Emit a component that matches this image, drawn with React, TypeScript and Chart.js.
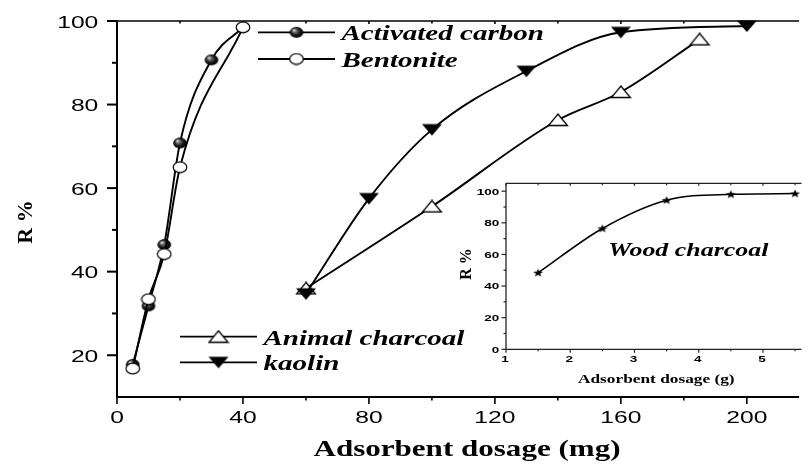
import React, { useEffect, useRef } from 'react';
import { Chart, registerables } from 'chart.js';

Chart.register(...registerables);

// ---------- data ----------
const acDose = [5, 10, 15, 20, 30, 40];
const acRemoval = [17.8, 31.8, 46.5, 70.8, 90.7, 98.5];
const bentDose = [5, 10, 15, 20, 40];
const bentRemoval = [16.8, 33.4, 44.2, 65.0, 98.5];
const animalDose = [60, 100, 140, 160, 185];
const animalRemoval = [36.0, 55.6, 76.3, 83.0, 95.6];
const kaolinDose = [60, 80, 100, 130, 160, 200];
const kaolinRemoval = [34.7, 57.5, 74.0, 88.0, 97.3, 98.8];
const woodDose = [1.5, 2.5, 3.5, 4.5, 5.5];
const woodRemoval = [48.4, 76.4, 94.3, 98.0, 98.5];

const xTickLabels = [0, 40, 80, 120, 160, 200];
const xMinorTicks = [20, 60, 100, 140, 180];
const yTickLabels = [20, 40, 60, 80, 100];
const yMinorTicks = [30, 50, 70, 90];
const insetXTickLabels = [1, 2, 3, 4, 5];
const insetXMinorTicks = [1.5, 2.5, 3.5, 4.5, 5.5];
const insetYTickLabels = [0, 20, 40, 60, 80, 100];
const insetYMinorTicks = [10, 30, 50, 70, 90];

const pts = (xs: number[], ys: number[]) => xs.map((x, i) => ({ x, y: ys[i] }));

// ---------- markers ----------
function makeCanvas(w: number, h: number) {
  const c = document.createElement('canvas');
  c.width = w;
  c.height = h;
  return c;
}
function sphereMarker() {
  const c = makeCanvas(16, 13);
  const g = c.getContext('2d')!;
  g.translate(8, 6.5);
  g.scale(1, 5.6 / 7);
  const grad = g.createRadialGradient(-2.8, -2.8, 0.3, 0, 0, 7);
  grad.addColorStop(0, '#e0e0e0');
  grad.addColorStop(0.35, '#555');
  grad.addColorStop(0.7, '#111');
  grad.addColorStop(1, '#000');
  g.beginPath();
  g.arc(0, 0, 6.8, 0, Math.PI * 2);
  g.fillStyle = grad;
  g.fill();
  return c;
}
function openCircleMarker() {
  const c = makeCanvas(16, 13);
  const g = c.getContext('2d')!;
  g.beginPath();
  g.ellipse(8, 6.5, 6.8, 5.4, 0, 0, Math.PI * 2);
  g.fillStyle = '#fff';
  g.fill();
  g.lineWidth = 1.2;
  g.strokeStyle = '#000';
  g.stroke();
  return c;
}
function downTriangleMarker() {
  const c = makeCanvas(22, 14);
  const g = c.getContext('2d')!;
  g.beginPath();
  g.moveTo(1, 1.5);
  g.lineTo(21, 1.5);
  g.lineTo(11, 13);
  g.closePath();
  g.fillStyle = '#000';
  g.fill();
  return c;
}
function upTriangleMarker() {
  const c = makeCanvas(22, 14);
  const g = c.getContext('2d')!;
  g.beginPath();
  g.moveTo(11, 1);
  g.lineTo(20.5, 12.5);
  g.lineTo(1.5, 12.5);
  g.closePath();
  g.fillStyle = '#fff';
  g.fill();
  g.lineWidth = 1.3;
  g.strokeStyle = '#000';
  g.stroke();
  return c;
}
function starMarker() {
  const c = makeCanvas(12, 10);
  const g = c.getContext('2d')!;
  g.beginPath();
  for (let i = 0; i < 10; i++) {
    const a = -Math.PI / 2 + (i * Math.PI) / 5;
    const r = i % 2 ? 1.8 : 4.3;
    const x = 6 + 1.25 * r * Math.cos(a);
    const y = 5.3 + r * Math.sin(a);
    if (i === 0) g.moveTo(x, y);
    else g.lineTo(x, y);
  }
  g.closePath();
  g.fillStyle = '#000';
  g.fill();
  return c;
}

// ---------- text helper (horizontally stretched, like the reference) ----------
function drawText(
  ctx: CanvasRenderingContext2D,
  text: string,
  x: number,
  y: number,
  font: string,
  sx: number,
  align: CanvasTextAlign,
  baseline: CanvasTextBaseline,
  rot = 0
) {
  ctx.save();
  ctx.translate(x, y);
  if (rot) ctx.rotate(rot);
  ctx.scale(sx, 1);
  ctx.font = font;
  ctx.textAlign = align;
  ctx.textBaseline = baseline;
  ctx.fillStyle = '#000';
  ctx.fillText(text, 0, 0);
  ctx.restore();
}
function line(ctx: CanvasRenderingContext2D, x1: number, y1: number, x2: number, y2: number) {
  ctx.beginPath();
  ctx.moveTo(x1, y1);
  ctx.lineTo(x2, y2);
  ctx.stroke();
}

export default function App() {
  const mainRef = useRef<HTMLCanvasElement>(null);
  const insetRef = useRef<HTMLCanvasElement>(null);

  useEffect(() => {
    const sphere = sphereMarker();
    const openCircle = openCircleMarker();
    const downTri = downTriangleMarker();
    const upTri = upTriangleMarker();
    const star = starMarker();

    const mainAxes = {
      id: 'mainAxes',
      beforeDatasetsDraw(chart: any) {
        const ctx = chart.ctx as CanvasRenderingContext2D;
        const { left, right, top, bottom } = chart.chartArea;
        const xs = chart.scales.x;
        const ys = chart.scales.y;
        ctx.save();
        ctx.strokeStyle = '#000';
        ctx.lineWidth = 1.5;
        line(ctx, left, top, right, top);
        ctx.lineWidth = 2;
        line(ctx, left, top - 0.5, left, bottom + 1);
        line(ctx, left - 1, bottom, right, bottom);
        ctx.lineWidth = 1.6;
        xTickLabels.forEach((v) => {
          const p = xs.getPixelForValue(v);
          line(ctx, p, bottom, p, bottom + 7);
          line(ctx, p, top, p, top + 3);
        });
        xMinorTicks.forEach((v) => {
          const p = xs.getPixelForValue(v);
          line(ctx, p, bottom, p, bottom + 3.5);
          line(ctx, p, top, p, top + 2.5);
        });
        ctx.lineWidth = 2;
        yTickLabels.forEach((v) => {
          const p = ys.getPixelForValue(v);
          line(ctx, left - 10, p, left, p);
        });
        yMinorTicks.forEach((v) => {
          const p = ys.getPixelForValue(v);
          line(ctx, left - 5, p, left, p);
        });
        ctx.restore();
      },
      afterDraw(chart: any) {
        const ctx = chart.ctx as CanvasRenderingContext2D;
        const { left, bottom } = chart.chartArea;
        const xs = chart.scales.x;
        const ys = chart.scales.y;
        const tickFont = '17px "Liberation Sans", Arial, sans-serif';
        xTickLabels.forEach((v) => {
          drawText(ctx, String(v), xs.getPixelForValue(v), bottom + 26, tickFont, 1.45, 'center', 'alphabetic');
        });
        yTickLabels.forEach((v) => {
          drawText(ctx, String(v), left - 18.7, ys.getPixelForValue(v) + 6.5, tickFont, 1.45, 'right', 'alphabetic');
        });
        drawText(ctx, 'Adsorbent dosage (mg)', 467, 456, 'bold 23px "Liberation Serif", serif', 1.35, 'center', 'alphabetic');
        drawText(ctx, 'R %', 32, 222, 'bold 22px "Liberation Serif", serif', 1, 'center', 'alphabetic', -Math.PI / 2);

        // legends
        const legFont = 'italic bold 22px "Liberation Serif", serif';
        const legend = (x1: number, x2: number, y: number, marker: HTMLCanvasElement, label: string) => {
          ctx.save();
          ctx.strokeStyle = '#000';
          ctx.lineWidth = 1.8;
          line(ctx, x1, y, x2, y);
          ctx.drawImage(marker, (x1 + x2) / 2 - marker.width / 2, y - marker.height / 2);
          ctx.restore();
          drawText(ctx, label, x2 + 6.5, y + 7.8, legFont, 1.32, 'left', 'alphabetic');
        };
        legend(258, 335, 32.3, sphere, 'Activated carbon');
        legend(258, 335, 59, openCircle, 'Bentonite');
        legend(180, 257, 336.7, upTri, 'Animal charcoal');
        legend(180, 257, 362.3, downTri, 'kaolin');
      },
    };

    const common = {
      showLine: true,
      borderColor: '#000',
      backgroundColor: '#000',
      borderWidth: 1.9,
      cubicInterpolationMode: 'monotone' as const,
      pointRadius: 7,
      clip: false as any,
    };

    const main = new Chart(mainRef.current!, {
      type: 'scatter',
      data: {
        datasets: [
          { ...common, label: 'Bentonite', data: pts(bentDose, bentRemoval), pointStyle: openCircle as any, order: 0 },
          { ...common, label: 'Activated carbon', data: pts(acDose, acRemoval), pointStyle: sphere as any, order: 1 },
          { ...common, label: 'kaolin', data: pts(kaolinDose, kaolinRemoval), pointStyle: downTri as any, order: 2 },
          { ...common, label: 'Animal charcoal', data: pts(animalDose, animalRemoval), pointStyle: upTri as any, order: 3 },
        ],
      },
      options: {
        responsive: false,
        animation: false,
        devicePixelRatio: 1,
        events: [],
        layout: { padding: { left: 117, top: 21, right: 0, bottom: 68 } },
        plugins: { legend: { display: false }, tooltip: { enabled: false } },
        scales: {
          x: { type: 'linear', min: 0, max: 216.6, display: false },
          y: { type: 'linear', min: 10, max: 100, display: false },
        },
      },
      plugins: [mainAxes],
    });

    const insetAxes = {
      id: 'insetAxes',
      beforeDatasetsDraw(chart: any) {
        const ctx = chart.ctx as CanvasRenderingContext2D;
        const { left, right, top, bottom } = chart.chartArea;
        const xs = chart.scales.x;
        const ys = chart.scales.y;
        ctx.save();
        ctx.strokeStyle = '#222';
        ctx.lineWidth = 1.3;
        line(ctx, left, top, right, top);
        line(ctx, left, top, left, bottom);
        line(ctx, left, bottom, right, bottom);
        ctx.lineWidth = 1.2;
        insetXTickLabels.forEach((v) => {
          const p = xs.getPixelForValue(v);
          line(ctx, p, bottom, p, bottom + 3.5);
          line(ctx, p, top, p, top + 2.5);
        });
        insetXMinorTicks.forEach((v) => {
          const p = xs.getPixelForValue(v);
          line(ctx, p, bottom, p, bottom + 2);
          line(ctx, p, top, p, top + 2);
        });
        insetYTickLabels.forEach((v) => {
          const p = ys.getPixelForValue(v);
          line(ctx, left - 4.5, p, left, p);
        });
        insetYMinorTicks.forEach((v) => {
          const p = ys.getPixelForValue(v);
          line(ctx, left - 2.5, p, left, p);
        });
        ctx.restore();
      },
      afterDraw(chart: any) {
        const ctx = chart.ctx as CanvasRenderingContext2D;
        const { left, bottom } = chart.chartArea;
        const xs = chart.scales.x;
        const ys = chart.scales.y;
        const f = 'bold 9px "Liberation Sans", Arial, sans-serif';
        insetXTickLabels.forEach((v) => {
          drawText(ctx, String(v), xs.getPixelForValue(v) - 1, bottom + 13, f, 1.5, 'center', 'alphabetic');
        });
        insetYTickLabels.forEach((v) => {
          drawText(ctx, String(v), left - 6.7, ys.getPixelForValue(v) + 3.3, f, 1.5, 'right', 'alphabetic');
        });
        drawText(ctx, 'Adsorbent dosage (g)', 216.3, 222.5, 'bold 13px "Liberation Serif", serif', 1.33, 'center', 'alphabetic');
        drawText(ctx, 'R %', 30.5, 104, 'bold 16px "Liberation Serif", serif', 1, 'center', 'alphabetic', -Math.PI / 2);
        drawText(ctx, 'Wood charcoal', 168.3, 95.5, 'italic bold 19.5px "Liberation Serif", serif', 1.33, 'left', 'alphabetic');
      },
    };

    const inset = new Chart(insetRef.current!, {
      type: 'scatter',
      data: {
        datasets: [
          {
            label: 'Wood charcoal',
            data: pts(woodDose, woodRemoval),
            showLine: true,
            borderColor: '#000',
            backgroundColor: '#000',
            borderWidth: 1.5,
            cubicInterpolationMode: 'monotone',
            pointRadius: 5,
            pointStyle: star as any,
            clip: false as any,
          },
        ],
      },
      options: {
        responsive: false,
        animation: false,
        devicePixelRatio: 1,
        events: [],
        layout: { padding: { left: 66, top: 23.3, right: 0, bottom: 50.7 } },
        plugins: { legend: { display: false }, tooltip: { enabled: false } },
        scales: {
          x: { type: 'linear', min: 1, max: 5.6, display: false },
          y: { type: 'linear', min: 0, max: 105, display: false },
        },
      },
      plugins: [insetAxes],
    });

    return () => {
      main.destroy();
      inset.destroy();
    };
  }, []);

  return (
    <div style={{ position: 'absolute', left: 0, top: 0, width: 808, height: 465, background: '#fff', overflow: 'hidden' }}>
      <canvas
        ref={mainRef}
        width={808}
        height={465}
        style={{ position: 'absolute', left: 0, top: 0, width: 808, height: 465 }}
      />
      <canvas
        ref={insetRef}
        width={368}
        height={240}
        style={{ position: 'absolute', left: 440, top: 160, width: 368, height: 240 }}
      />
    </div>
  );
}
